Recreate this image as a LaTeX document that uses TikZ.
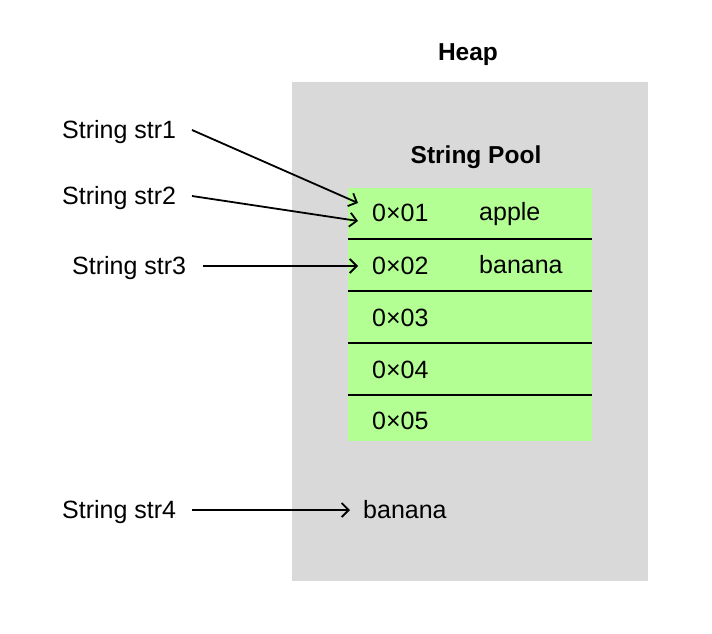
\documentclass[tikz,border=0pt]{standalone}
\usepackage{fontspec}
\setmainfont{Liberation Sans}
\usetikzlibrary{arrows.meta}
\definecolor{heapgray}{HTML}{D9D9D9}
\definecolor{poolgreen}{HTML}{B3FF94}
\begin{document}
\begin{tikzpicture}[x=1pt,y=-1pt,
  txt/.style={font=\fontsize{25}{29}\selectfont, inner sep=0pt, anchor=base west},
  ttl/.style={font=\fontsize{24.5}{28}\selectfont\bfseries, inner sep=0pt, anchor=base},
  ptr/.style={line width=1.8pt, -{Straight Barb[length=7pt,width=14pt,line width=1.8pt]}},
  sep/.style={line width=2pt}]
\useasboundingbox (0,0) rectangle (712,634);
\fill[white] (0,0) rectangle (712,634);
% heap
\fill[heapgray] (292,82) rectangle (648,581);
\node[ttl] (heap) at (468,61) {Heap};
\node[ttl] (pool) at (476,163) {String Pool};
% pool table
\fill[poolgreen] (348,188) rectangle (592,441);
\foreach \y in {239,291,343,395} \draw[sep] (348,\y) -- (592,\y);
\node[txt] (a1) at (372,221) {0×01};
\node[txt] (v1) at (479,220) {apple};
\node[txt] (a2) at (372,274) {0×02};
\node[txt] (v2) at (479,273) {banana};
\node[txt] (a3) at (372,326) {0×03};
\node[txt] (a4) at (372,378) {0×04};
\node[txt] (a5) at (372,429) {0×05};
\coordinate (t1) at (358,203);
\coordinate (t2) at (358,221);
\coordinate (t3) at (358,266);
% refs
\node[txt] (s1) at (62,138) {String str1};
\node[txt] (s2) at (62,204) {String str2};
\node[txt] (s3) at (72,274) {String str3};
\node[txt] (s4) at (62,518) {String str4};
\node[txt] (b4) at (363,518) {banana};
\coordinate (f1) at (192,130);
\coordinate (f2) at (192,196);
\coordinate (f3) at (203,266);
\coordinate (f4) at (192,510);
\coordinate (t4) at (350,510);
\draw[ptr] (f1) -- (t1);
\draw[ptr] (f2) -- (t2);
\draw[ptr] (f3) -- (t3);
\draw[ptr] (f4) -- (t4);
\end{tikzpicture}
\end{document}
